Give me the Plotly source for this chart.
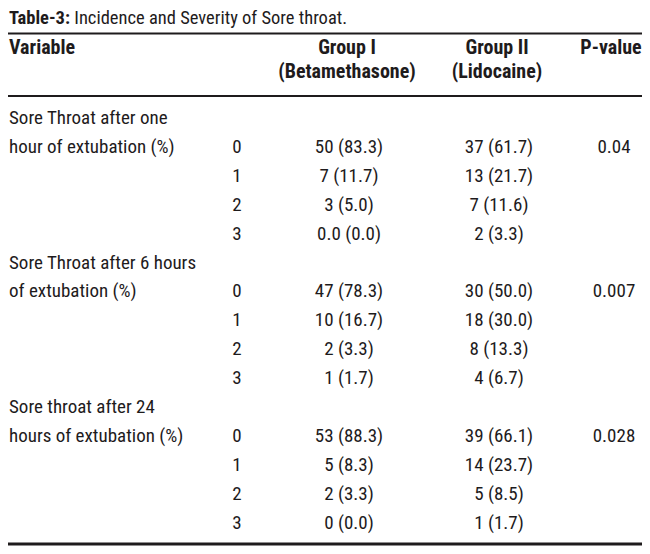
import plotly.graph_objects as go

# table content
title_text = "<b>Table-3:</b> Incidence and Severity of Sore throat."
header_top = ["Variable", "Group I", "Group II", "P-value"]
header_bottom = ["", "(Betamethasone)", "(Lidocaine)", ""]

variables = [
    ["Sore Throat after one", "hour of extubation (%)"],
    ["Sore Throat after 6 hours", "of extubation (%)"],
    ["Sore throat after 24", "hours of extubation (%)"],
]
levels = ["0", "1", "2", "3"]
group1 = [
    ["50 (83.3)", "7 (11.7)", "3 (5.0)", "0.0 (0.0)"],
    ["47 (78.3)", "10 (16.7)", "2 (3.3)", "1 (1.7)"],
    ["53 (88.3)", "5 (8.3)", "2 (3.3)", "0 (0.0)"],
]
group2 = [
    ["37 (61.7)", "13 (21.7)", "7 (11.6)", "2 (3.3)"],
    ["30 (50.0)", "18 (30.0)", "8 (13.3)", "4 (6.7)"],
    ["39 (66.1)", "14 (23.7)", "5 (8.5)", "1 (1.7)"],
]
p_values = ["0.04", "0.007", "0.028"]

FONT = "Roboto Condensed, Liberation Sans Narrow, Roboto, sans-serif"
INK = "#1e1b1c"
SIZE = 19

# vertical grid: body rows are ROW_H px apart, first one centred at TOP0 px
TOP0 = 119.0
ROW_H = 28.95


def at_px(p):
    # window pixel -> row units on the y axis
    return (p - TOP0) / ROW_H


# build the rows: each block is a title line then four level lines
var_txt, var_y = [], []
lvl_txt, lvl_y = [], []
g1_txt, g2_txt, val_y = [], [], []
p_txt, p_y = [], []
row = 0
for b in range(len(variables)):
    var_txt.append(variables[b][0])
    var_y.append(row)
    row += 1
    var_txt.append(variables[b][1])
    var_y.append(row)
    p_txt.append(p_values[b])
    p_y.append(row)
    for k in range(len(levels)):
        lvl_txt.append(levels[k])
        lvl_y.append(row)
        g1_txt.append(group1[b][k])
        g2_txt.append(group2[b][k])
        val_y.append(row)
        if k < len(levels) - 1:
            row += 1
    row += 1

col_x = {"var": 9, "lvl": 237, "g1": 349, "g2": 499, "p": 614}
head_x = [9, 347, 497, 611]

fig = go.Figure()


def add_text(xs, ys, texts, pos, bold=False, size=SIZE):
    fig.add_trace(go.Scatter(
        x=xs, y=ys, text=texts, mode="text", textposition=pos,
        textfont=dict(family=FONT, size=size, color=INK,
                      weight="bold" if bold else "normal"),
        hoverinfo="skip", showlegend=False,
    ))


add_text([col_x["var"]] * len(var_txt), var_y, var_txt, "middle right")
add_text([col_x["lvl"]] * len(lvl_txt), lvl_y, lvl_txt, "middle center")
add_text([col_x["g1"]] * len(g1_txt), val_y, g1_txt, "middle center")
add_text([col_x["g2"]] * len(g2_txt), val_y, g2_txt, "middle center")
add_text([col_x["p"]] * len(p_txt), p_y, p_txt, "middle center")

# header
add_text([head_x[0]], [at_px(49)], [header_top[0]], "middle right", bold=True, size=20)
add_text(head_x[1:], [at_px(49)] * 3, header_top[1:], "middle center", bold=True, size=20)
add_text(head_x[1:3], [at_px(73)] * 2, header_bottom[1:3], "middle center", bold=True, size=20)
add_text([9], [at_px(19.5)], [title_text], "middle right", size=18.5)

# rules
for p, w in [(33.5, 2.2), (96, 2), (544, 3)]:
    fig.add_shape(type="line", x0=4, x1=646, y0=at_px(p), y1=at_px(p),
                  line=dict(color=INK, width=w), xref="x", yref="y")

# the page body keeps an 8 px margin, so the figure covers window pixels 8..650 / 8..554
fig.update_xaxes(range=[8, 650], visible=False, fixedrange=True)
fig.update_yaxes(range=[at_px(554), at_px(8)], visible=False, fixedrange=True)
fig.update_layout(
    width=642, height=546,
    margin=dict(l=0, r=0, t=0, b=0),
    paper_bgcolor="white", plot_bgcolor="white",
)

fig.write_html("out.html")
